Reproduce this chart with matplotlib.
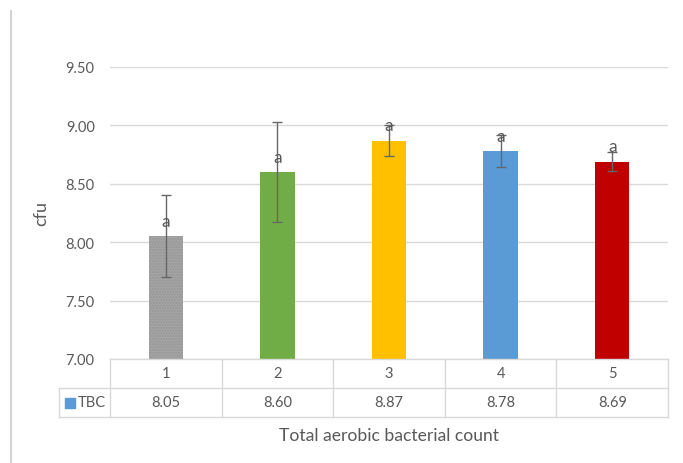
import matplotlib.pyplot as plt
from matplotlib.lines import Line2D

# data
groups = ['1', '2', '3', '4', '5']
tbc = [8.05, 8.60, 8.87, 8.78, 8.69]
err = [0.35, 0.43, 0.13, 0.14, 0.08]
letters = ['a', 'a', 'a', 'a', 'a']
colors = ['#A5A5A5', '#70AD47', '#FFC000', '#5B9BD5', '#C00000']
yticks = [7.00, 7.50, 8.00, 8.50, 9.00, 9.50]

plt.rcParams['font.family'] = ['Lato', 'DejaVu Sans']
txt = '#595959'
grid = '#D9D9D9'

fig = plt.figure(figsize=(6.83, 4.64), dpi=100)
ax = fig.add_axes([110 / 683, 1 - 360 / 464, 558 / 683, 292 / 464])

x = list(range(len(groups)))
bars = ax.bar(x, [v - 7 for v in tbc], bottom=7, width=0.31, color=colors, zorder=2)
bars[0].set_hatch('......')
bars[0].set_edgecolor('#959595')
bars[0].set_linewidth(0)

ax.errorbar(x, tbc, yerr=err, fmt='none', ecolor='#666666', elinewidth=1,
            capsize=3.5, capthick=1, zorder=3)

for xi, v, lab in zip(x, tbc, letters):
    ax.annotate(lab, (xi, v), xytext=(0, 11), textcoords='offset points',
                ha='center', va='center', fontsize=12.5, color=txt, zorder=4)

ax.set_xlim(-0.5, len(groups) - 0.5)
ax.set_ylim(7, 9.5)
ax.set_yticks(yticks)
ax.set_yticklabels([f'{t:.2f}' for t in yticks])
ax.tick_params(axis='y', length=0, pad=11, labelsize=10.5, labelcolor=txt)
ax.tick_params(axis='x', length=0, labelbottom=False)
ax.yaxis.grid(True, color=grid, lw=1, zorder=0)
for s in ['left', 'right', 'top', 'bottom']:
    ax.spines[s].set_visible(False)
ax.set_ylabel('cfu', fontsize=13, color=txt, labelpad=12)

# data table under the axis
tr = ax.get_xaxis_transform()
rh = 29 / 292
left = -0.5 - 51 / 111.6
right = len(groups) - 0.5
lc = '#D9D9D9'
ax.plot([-0.5, right], [0, 0], color=lc, lw=1, transform=tr, clip_on=False)
for yy in [-rh, -2 * rh]:
    ax.plot([left, right], [yy, yy], color=lc, lw=1, transform=tr, clip_on=False)
for i in range(len(groups) + 1):
    xv = i - 0.5
    ax.plot([xv, xv], [0, -2 * rh], color=lc, lw=1, transform=tr, clip_on=False)
ax.plot([left, left], [-rh, -2 * rh], color=lc, lw=1, transform=tr, clip_on=False)

for xi, g, v in zip(x, groups, tbc):
    ax.text(xi, -rh / 2, g, transform=tr, ha='center', va='center',
            fontsize=10.5, color=txt)
    ax.text(xi, -1.5 * rh, f'{v:.2f}', transform=tr, ha='center', va='center',
            fontsize=10.5, color=txt)
ax.plot([left + 0.1], [-1.5 * rh], marker='s', ms=6.5, color='#5B9BD5',
        transform=tr, clip_on=False)
ax.text(left + 0.17, -1.5 * rh, 'TBC', transform=tr, ha='left', va='center',
        fontsize=10.5, color=txt)

ax.text(2, -2 * rh - 0.06, 'Total aerobic bacterial count', transform=tr,
        ha='center', va='center', fontsize=12.6, color=txt)

fig.add_artist(Line2D([11 / 683, 11 / 683], [0, 1 - 12 / 464], color='#D4D4D4', lw=1.5))

fig.savefig('out.png', dpi=100)
